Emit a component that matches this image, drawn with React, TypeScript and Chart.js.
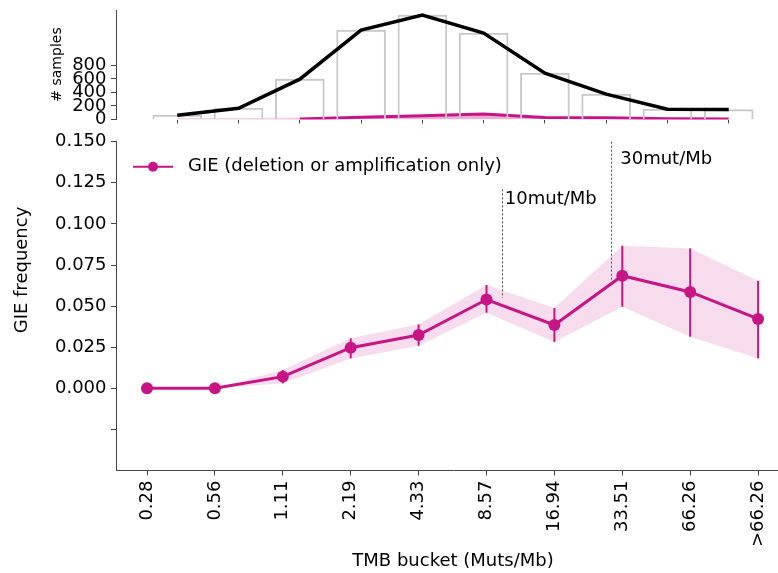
import React, { useEffect, useRef } from 'react';
import { Chart, registerables } from 'chart.js';

Chart.register(...registerables);

// ---------------- data ----------------
const categories = ['0.28', '0.56', '1.11', '2.19', '4.33', '8.57', '16.94', '33.51', '66.26', '>66.26'];
const gieFreq = [0.0, 0.0, 0.0071, 0.0247, 0.0324, 0.054, 0.0385, 0.0685, 0.0586, 0.0422];
const gieUpper = [0.0, 0.0, 0.0111, 0.0304, 0.0389, 0.0628, 0.0488, 0.0867, 0.0851, 0.0654];
const gieLower = [0.0, 0.0, 0.003, 0.0182, 0.0259, 0.046, 0.0282, 0.0496, 0.0314, 0.0182];
const sampleCounts = [64, 167, 597, 1323, 1545, 1279, 686, 375, 152, 148];
const gieCounts = [0, 0, 6, 35, 55, 82, 30, 26, 10, 6];
const freqTicks = [-0.025, 0, 0.025, 0.05, 0.075, 0.1, 0.125, 0.15];
const sampleTicks = [0, 200, 400, 600, 800];
const thresholdLabels = ['10mut/Mb', '30mut/Mb'];
const thresholdX = [5.227, 6.84];
const thresholdTop = [0.121, 0.15];
const thresholdBottom = [0.055, 0.066];
const thresholdLabelX = [5.27, 6.97];
const thresholdLabelY = [0.115, 0.1395];
const legendLabel = 'GIE (deletion or amplification only)';

// ---------------- style ----------------
const FONT = 'DejaVu Sans';
const MAGENTA = '#c71585';
const BAND = 'rgba(199,21,133,0.15)';
const AXIS = '#444444';
Chart.defaults.font.family = FONT;

const pts = (arr: number[]) => arr.map((y, i) => ({ x: i, y }));

const topConfig = (): any => ({
  type: 'bar',
  data: {
    datasets: [
      {
        type: 'line',
        label: 'GIE count',
        data: pts(gieCounts),
        borderColor: MAGENTA,
        borderWidth: 3,
        backgroundColor: 'rgba(199,21,133,0.35)',
        fill: 'origin',
        pointRadius: 0,
        order: 3,
        segment: {
          borderColor: (ctx: any) =>
            ctx.p0.parsed.y + ctx.p1.parsed.y < 7 ? 'rgba(199,21,133,0.2)' : MAGENTA,
        },
      },
      {
        type: 'bar',
        label: 'samples',
        data: pts(sampleCounts),
        backgroundColor: 'rgba(255,255,255,0)',
        borderColor: '#c8c8c8',
        borderWidth: 1.3,
        barThickness: 49,
        order: 2,
      },
      {
        type: 'line',
        label: 'samples line',
        data: pts(sampleCounts),
        borderColor: '#000000',
        borderWidth: 3.5,
        pointRadius: 0,
        fill: false,
        order: 1,
      },
    ],
  },
  options: {
    responsive: false,
    devicePixelRatio: 1,
    animation: false,
    layout: { padding: { top: 10, right: 10, left: 0, bottom: 0 } },
    plugins: { legend: { display: false }, tooltip: { enabled: false } },
    scales: {
      x: {
        type: 'linear',
        min: -1,
        max: 10,
        offset: false,
        afterBuildTicks: (s: any) => {
          s.ticks = categories.map((_, i) => ({ value: i }));
        },
        ticks: { display: false },
        grid: { offset: false, drawOnChartArea: false, drawTicks: true, tickLength: 4, color: AXIS, lineWidth: 1 },
        border: { display: false },
        afterFit: (s: any) => {
          s.height = 15.5;
          s.paddingLeft = 0;
          s.paddingRight = 0;
        },
      },
      y: {
        type: 'linear',
        min: 0,
        max: 1620,
        afterBuildTicks: (s: any) => {
          s.ticks = sampleTicks.map((v) => ({ value: v }));
        },
        ticks: { autoSkip: false, font: { size: 18, family: FONT }, color: '#000', padding: 4.5 },
        grid: { drawOnChartArea: false, drawTicks: true, tickLength: 5, color: AXIS, lineWidth: 1 },
        border: { display: true, color: AXIS, width: 1 },
        afterFit: (s: any) => {
          s.width = 116;
          s.paddingTop = 0;
          s.paddingBottom = 0;
        },
      },
    },
  },
  plugins: [
    {
      id: 'samplesTitle',
      afterDraw: (chart: any) => {
        const ctx = chart.ctx;
        ctx.save();
        ctx.translate(57, 64.5);
        ctx.rotate(-Math.PI / 2);
        ctx.font = `14px "${FONT}"`;
        ctx.fillStyle = '#000';
        ctx.textAlign = 'center';
        ctx.textBaseline = 'middle';
        ctx.fillText('# samples', 0, 0);
        ctx.restore();
      },
    },
  ],
});

const botConfig = (): any => ({
  type: 'line',
  data: {
    datasets: [
      {
        label: 'upper',
        data: pts(gieUpper),
        borderColor: 'rgba(0,0,0,0)',
        borderWidth: 0,
        pointRadius: 0,
        backgroundColor: BAND,
        fill: '+1',
        order: 3,
      },
      {
        label: 'lower',
        data: pts(gieLower),
        borderColor: 'rgba(0,0,0,0)',
        borderWidth: 0,
        pointRadius: 0,
        fill: false,
        order: 3,
      },
      {
        label: legendLabel,
        data: pts(gieFreq),
        borderColor: MAGENTA,
        backgroundColor: MAGENTA,
        borderWidth: 3,
        pointRadius: 6,
        pointBackgroundColor: MAGENTA,
        pointBorderColor: MAGENTA,
        pointBorderWidth: 0,
        fill: false,
        order: 1,
      },
    ],
  },
  options: {
    responsive: false,
    devicePixelRatio: 1,
    animation: false,
    layout: { padding: { top: 11.7, right: 10, left: 0, bottom: 0 } },
    plugins: { legend: { display: false }, tooltip: { enabled: false } },
    scales: {
      x: {
        type: 'linear',
        min: -0.4566,
        max: 9.47,
        afterBuildTicks: (s: any) => {
          s.ticks = categories.map((_, i) => ({ value: i }));
        },
        ticks: {
          autoSkip: false,
          minRotation: 90,
          maxRotation: 90,
          font: { size: 18, family: FONT },
          color: '#000',
          padding: 5,
          callback: (v: any) => categories[v] ?? '',
        },
        grid: { drawOnChartArea: false, drawTicks: true, tickLength: 5, color: AXIS, lineWidth: 1 },
        border: { display: true, color: AXIS, width: 1 },
        title: {
          display: true,
          text: 'TMB bucket (Muts/Mb)',
          font: { size: 18, family: FONT },
          color: '#000',
          padding: { top: 0, bottom: 1 },
        },
        afterFit: (s: any) => {
          s.height = 102.5;
          s.paddingLeft = 0;
          s.paddingRight = 0;
        },
      },
      y: {
        type: 'linear',
        min: -0.05,
        max: 0.15,
        afterBuildTicks: (s: any) => {
          s.ticks = freqTicks.map((v) => ({ value: v }));
        },
        ticks: {
          autoSkip: false,
          font: { size: 18, family: FONT },
          color: '#000',
          padding: 4.5,
          callback: (v: any) => (v < 0 ? '' : Number(v).toFixed(3)),
        },
        grid: { drawOnChartArea: false, drawTicks: true, tickLength: 5, color: AXIS, lineWidth: 1 },
        border: { display: true, color: AXIS, width: 1 },
        afterFit: (s: any) => {
          s.width = 116;
          s.paddingTop = 0;
          s.paddingBottom = 0;
        },
      },
    },
  },
  plugins: [
    {
      id: 'errorBars',
      afterDatasetsDraw: (chart: any) => {
        const { ctx, scales } = chart;
        const xs = scales.x;
        const ys = scales.y;
        ctx.save();
        ctx.strokeStyle = MAGENTA;
        ctx.lineWidth = 2;
        gieFreq.forEach((_, i) => {
          if (gieUpper[i] === gieLower[i]) return;
          const x = xs.getPixelForValue(i);
          ctx.beginPath();
          ctx.moveTo(x, ys.getPixelForValue(gieUpper[i]));
          ctx.lineTo(x, ys.getPixelForValue(gieLower[i]));
          ctx.stroke();
        });
        ctx.restore();
      },
    },
    {
      id: 'thresholds',
      afterDatasetsDraw: (chart: any) => {
        const { ctx, scales } = chart;
        const xs = scales.x;
        const ys = scales.y;
        ctx.save();
        thresholdLabels.forEach((lab, i) => {
          const x = Math.round(xs.getPixelForValue(thresholdX[i])) + 0.5;
          ctx.strokeStyle = '#555555';
          ctx.lineWidth = 1;
          ctx.setLineDash([2, 2]);
          ctx.beginPath();
          ctx.moveTo(x, ys.getPixelForValue(thresholdTop[i]));
          ctx.lineTo(x, ys.getPixelForValue(thresholdBottom[i]));
          ctx.stroke();
          ctx.setLineDash([]);
          ctx.font = `18px "${FONT}"`;
          ctx.fillStyle = '#000';
          ctx.textAlign = 'left';
          ctx.textBaseline = 'middle';
          ctx.fillText(lab, xs.getPixelForValue(thresholdLabelX[i]), ys.getPixelForValue(thresholdLabelY[i]));
        });
        ctx.restore();
      },
    },
    {
      id: 'customLegendAndTitle',
      afterDraw: (chart: any) => {
        const { ctx, chartArea } = chart;
        ctx.save();
        // legend
        const ly = chartArea.top + 25;
        const lx = chartArea.left + 17;
        ctx.strokeStyle = MAGENTA;
        ctx.lineWidth = 2;
        ctx.beginPath();
        ctx.moveTo(lx, ly);
        ctx.lineTo(lx + 40, ly);
        ctx.stroke();
        ctx.fillStyle = MAGENTA;
        ctx.beginPath();
        ctx.arc(lx + 20, ly, 5, 0, Math.PI * 2);
        ctx.fill();
        ctx.font = `18px "${FONT}"`;
        ctx.fillStyle = '#000';
        ctx.textAlign = 'left';
        ctx.textBaseline = 'middle';
        ctx.fillText(legendLabel, lx + 55, ly);
        // y title
        ctx.translate(22, 140);
        ctx.rotate(-Math.PI / 2);
        ctx.textAlign = 'center';
        ctx.fillText('GIE frequency', 0, 0);
        ctx.restore();
      },
    },
  ],
});

export default function App() {
  const topRef = useRef<HTMLCanvasElement>(null);
  const botRef = useRef<HTMLCanvasElement>(null);
  useEffect(() => {
    const top = new Chart(topRef.current as HTMLCanvasElement, topConfig());
    const bot = new Chart(botRef.current as HTMLCanvasElement, botConfig());
    return () => {
      top.destroy();
      bot.destroy();
    };
  }, []);
  return (
    <div
      style={{
        position: 'fixed',
        left: 0,
        top: 0,
        width: 778,
        height: 573,
        overflow: 'hidden',
        background: '#fff',
      }}
    >
      <canvas
        ref={topRef}
        width={800}
        height={135}
        style={{ position: 'absolute', left: 0, top: 0, width: 800, height: 135 }}
      />
      <canvas
        ref={botRef}
        width={800}
        height={443}
        style={{ position: 'absolute', left: 0, top: 130, width: 800, height: 443 }}
      />
    </div>
  );
}
